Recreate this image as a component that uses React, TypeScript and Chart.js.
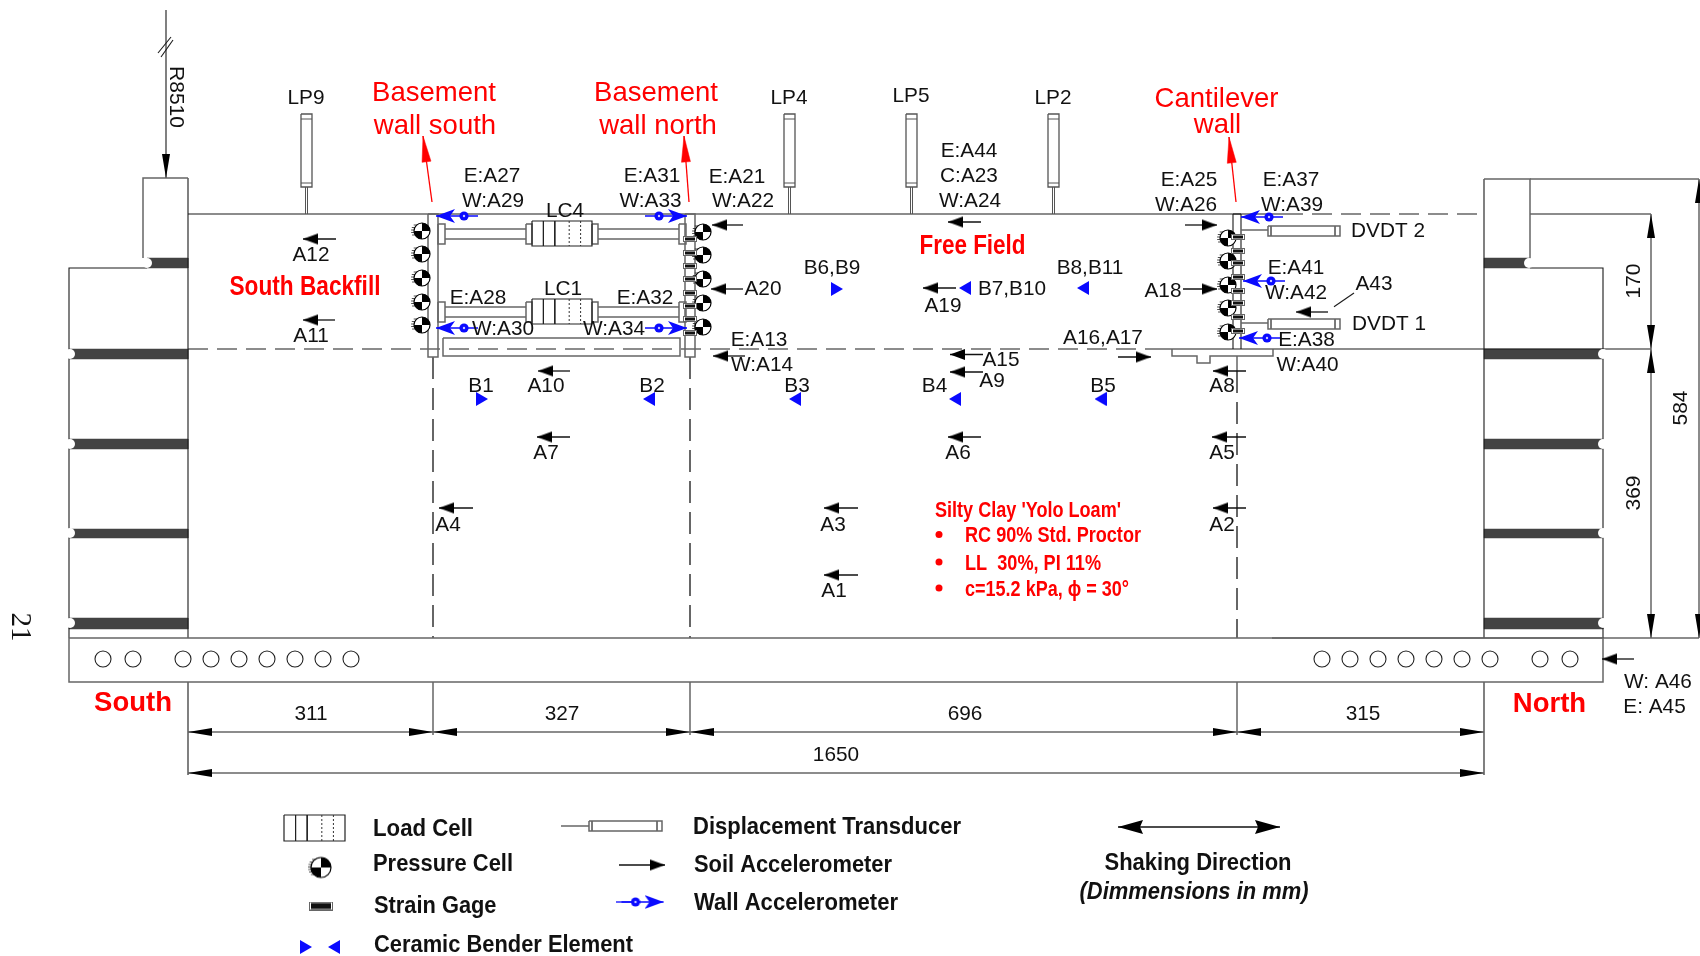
import { useEffect, useRef } from "react";
import { Chart, registerables } from "chart.js";

Chart.register(...registerables);

type P = [number, number];
type R = [number, number, number, number];
type T = [string, number, number, number?];

// ---------- Labels ----------
const sensorLabels: T[] = [
  ["LP9", 306, 97], ["LP4", 789, 97], ["LP5", 911, 95], ["LP2", 1053, 97],
  ["E:A44", 969, 150], ["C:A23", 969, 175], ["W:A24", 970, 199.5],
  ["E:A27", 492, 175], ["W:A29", 493, 199.5], ["LC4", 565, 210],
  ["E:A31", 652, 175], ["W:A33", 650.5, 199.5], ["E:A21", 737, 175.5], ["W:A22", 743, 199.5],
  ["E:A25", 1189, 179], ["W:A26", 1186, 204], ["E:A37", 1291, 179], ["W:A39", 1292, 204],
  ["DVDT 2", 1388, 230], ["DVDT 1", 1389, 323],
  ["A12", 311, 254], ["A11", 311, 335], ["A20", 763, 288], ["A18", 1163, 289.5],
  ["B6,B9", 832, 267], ["B8,B11", 1090, 267], ["B7,B10", 1012, 288], ["A19", 943, 305],
  ["E:A41", 1296, 267], ["W:A42", 1296, 292], ["A43", 1374, 283],
  ["LC1", 563, 288], ["E:A28", 478, 297], ["E:A32", 645, 297],
  ["W:A30", 503, 327.5], ["W:A34", 614, 327.5], ["A16,A17", 1103, 337],
  ["E:A38", 1306.5, 339], ["E:A13", 759, 339], ["W:A14", 762, 364], ["A15", 1001, 359],
  ["W:A40", 1307.5, 364], ["A9", 992, 379.5],
  ["B1", 481, 385], ["A10", 546, 385], ["B2", 652, 385], ["B3", 797, 385],
  ["B4", 934.5, 385], ["B5", 1103, 385], ["A8", 1222, 385],
  ["A7", 546, 452], ["A6", 958, 452], ["A5", 1222, 452],
  ["A4", 448, 524], ["A3", 833, 524], ["A2", 1222, 524], ["A1", 834, 590],
  ["311", 311, 712.5], ["327", 562, 712.5], ["696", 965, 712.5], ["315", 1363, 712.5], ["1650", 836, 753.5],
  ["W: A46", 1658, 681], ["E: A45", 1654.5, 706],
];
const wallTitles: T[] = [
  ["Basement", 434, 92], ["wall south", 435, 125], ["Basement", 656, 92], ["wall north", 658, 125],
  ["Cantilever", 1216.5, 97.5], ["wall", 1217.5, 124],
];
const regionTitles: T[] = [["South Backfill", 305, 286, 151], ["Free Field", 972.5, 245, 106]];
const endTitles: T[] = [["South", 133, 701.5], ["North", 1549.5, 702.5]];
const soilNotes: T[] = [
  ["Silty Clay 'Yolo Loam'", 935, 509, 186], ["RC 90% Std. Proctor", 965, 534.5, 176],
  ["LL  30%, PI 11%", 965, 562, 136], ["c=15.2 kPa, \u03D5 = 30\u00B0", 965, 588, 164],
];
const legendLabels: T[] = [
  ["Load Cell", 373, 828, 100], ["Pressure Cell", 373, 863, 140], ["Strain Gage", 374, 905.5, 122.5],
  ["Ceramic Bender Element", 374, 944, 259], ["Displacement Transducer", 693, 826, 268],
  ["Soil Accelerometer", 694, 864, 198], ["Wall Accelerometer", 694, 902, 204],
];
const shakingTitle: T[] = [["Shaking Direction", 1198, 862, 187]];
const shakingNote: T[] = [["(Dimmensions in mm)", 1194, 891, 229]];
const upDimensions: T[] = [["170", 1634, 281], ["369", 1634, 493], ["584", 1681, 408]];
const radiusLabel: T[] = [["R8510", 176, 97]];
const pageNumber: T[] = [["21", 19.5, 627]];

// ---------- Sensors ----------
const soilLeft: [number, number, number][] = [
  [303, 336, 239], [303, 335, 320], [712, 743, 225], [711, 743, 289], [713, 745, 356], [538, 570, 371],
  [537, 570, 437], [948, 981, 437], [1212, 1246, 437], [1213, 1246, 371], [439, 473, 508], [824, 858, 508],
  [1213, 1246, 508], [824, 858, 575], [923, 956, 288], [950, 983, 354.5], [950, 983, 372], [948, 981, 222],
  [1296, 1328, 312], [1602, 1634, 659],
];
const soilRight: [number, number, number][] = [
  [1217, 1185, 225], [1217, 1183, 289], [1151, 1118, 357], [665, 619, 865],
];
const wallLeft: P[] = [[436, 216], [436, 328], [1241, 217], [1243, 281], [1239, 338]];
const wallRight: P[] = [[687, 216], [687, 328], [663.5, 902]];
const legendWallTail: P[][] = [[[616, 902], [640, 902]]];
const benderRight: P[] = [[482, 399], [837, 289], [306, 947]];
const benderLeft: P[] = [[649, 399], [795, 399], [955, 399], [1100.5, 399], [965, 288], [1083, 288], [334, 947]];
const pressureCells: P[] = [
  [421, 231], [421, 254], [421, 278], [421, 302], [421, 325],
  [702, 232], [702, 255], [702, 279], [702, 303], [702, 327],
  [1227, 238], [1227, 261], [1227, 285], [1227, 308], [1227, 332],
];
const legendPressure: P[] = [[320, 867.5]];
const strainGages: P[] = [
  [690, 239], [690, 253], [690, 266], [690, 279], [690, 293], [690, 306], [690, 319], [690, 333],
  [1238, 237], [1238, 251], [1238, 263], [1238, 277], [1238, 291], [1238, 303], [1238, 317], [1238, 331],
];
const legendStrain: P[] = [[321, 906]];
const holes: P[] = [
  [103, 659], [133, 659], [183, 659], [211, 659], [239, 659], [267, 659], [295, 659], [323, 659], [351, 659],
  [1322, 659], [1350, 659], [1378, 659], [1406, 659], [1434, 659], [1462, 659], [1490, 659], [1540, 659], [1570, 659],
];
const notches: P[] = [
  [147, 263], [70, 354], [70, 444], [70, 533], [70, 623],
  [1529, 263], [1603, 354], [1603, 444], [1603, 533], [1603, 623],
];
const noteBullets: P[] = [[939, 534.5], [939, 562], [939, 588]];

// ---------- Structure ----------
const darkBands: R[] = [
  [147, 258, 188, 268], [69, 349, 188, 359], [69, 439, 188, 449], [69, 529, 188, 538], [69, 618, 188, 629],
  [1484, 258, 1530, 268], [1484, 349, 1603, 359], [1484, 439, 1603, 449], [1484, 529, 1603, 538], [1484, 618, 1603, 629],
];
const blackLines: P[][] = [
  [[166, 10], [166, 178]], [[158, 53], [171, 37]], [[161, 57], [173, 40]],
  [[188, 178], [188, 638]], [[1484, 179], [1484, 638]],
  [[147, 268], [69, 268], [69, 638]], [[1530, 268], [1603, 268], [1603, 638]],
  [[188, 214], [1283, 214]], [[1530, 214], [1651, 214]], [[1156, 349], [1651, 349]], [[1272, 638], [1699, 638]],
  [[1233, 214], [1233, 349]], [[1241, 214], [1241, 349]], [[1233, 214], [1241, 214]],
  [[188, 682], [188, 775]], [[1484, 682], [1484, 775]],
  [[1334, 306.7], [1354, 293]],
];
const dashedBlack: P[][] = [[[188, 349], [1156, 349]], [[1283, 214], [1484, 214]]];
const grayLines: P[][] = [
  [[143, 258], [143, 178], [188, 178]], [[1530, 258], [1530, 179], [1484, 179]], [[1530, 179], [1699, 179]],
  [[69, 638], [1603, 638], [1603, 682], [69, 682], [69, 638]],
  [[433, 682], [433, 735]], [[690, 682], [690, 735]], [[1237, 682], [1237, 735]],
  [[188, 732], [1484, 732]], [[188, 773], [1484, 773]],
  [[1651, 214], [1651, 638]], [[1699, 179], [1699, 638]],
  [[1172, 349], [1172, 356], [1197, 356], [1197, 363], [1210, 363], [1210, 356], [1273, 356], [1273, 349]],
  [[1237, 356], [1237, 371]],
  [[445, 229], [526, 229]], [[445, 239], [526, 239]], [[598, 229], [679, 229]], [[598, 239], [679, 239]],
  [[445, 307], [526, 307]], [[445, 317], [526, 317]], [[598, 307], [679, 307]], [[598, 317], [679, 317]],
  [[1241, 230], [1268, 230]], [[1241, 323], [1268, 323]], [[561, 826], [589, 826]],
];
const grayRects: R[] = [
  [428, 214, 438, 357], [685, 214, 695, 357], [443, 338, 680, 356],
  [438, 224, 445, 244], [526, 224, 532, 244], [592, 224, 598, 244], [679, 224, 686, 244],
  [438, 302, 445, 322], [526, 302, 532, 322], [592, 302, 598, 322], [679, 302, 686, 322],
  [1268, 226, 1340, 236], [1268, 319, 1340, 329], [589, 821, 662, 831],
];
const gauges: number[] = [301, 784, 906, 1048];
const loadCells: R[] = [[532, 221, 592, 246], [532, 299, 592, 324], [284, 815, 345, 841]];
const dashedWalls: P[][] = [[[433, 357], [433, 638]], [[690, 357], [690, 638]], [[1237, 371], [1237, 638]]];
const redArrows: [P, P][] = [[[432, 202], [423, 136]], [[689, 202], [684, 136]], [[1236, 202], [1229, 137]]];
// tip x, tip y, direction
const dimensionHeads: [number, number, string][] = [
  [188, 732, "left"], [433, 732, "right"], [433, 732, "left"], [690, 732, "right"], [690, 732, "left"],
  [1237, 732, "right"], [1237, 732, "left"], [1484, 732, "right"], [188, 773, "left"], [1484, 773, "right"],
  [1651, 214, "up"], [1651, 349, "down"], [1651, 349, "up"], [1651, 638, "down"],
  [1699, 179, "up"], [1699, 638, "down"], [166, 178, "down"],
];
const shakingArrow: P[] = [[1118, 827], [1280, 827]];

const rotations: Record<string, number> = { right: 0, down: 90, left: 180, up: -90 };
const unit: Record<string, P> = { right: [1, 0], down: [0, 1], left: [-1, 0], up: [0, -1] };

function image(w: number, h: number, draw: (c: CanvasRenderingContext2D) => void) {
  const cv = document.createElement("canvas");
  cv.width = w;
  cv.height = h;
  draw(cv.getContext("2d") as CanvasRenderingContext2D);
  return cv;
}
const headImage = (len: number, wid: number, color: string, notch = 0) =>
  image(len, wid + 2, (c) => {
    c.fillStyle = color;
    c.beginPath();
    c.moveTo(len, wid / 2 + 1);
    c.lineTo(0, 1);
    c.lineTo(notch, wid / 2 + 1);
    c.lineTo(0, wid + 1);
    c.closePath();
    c.fill();
  });
const pressureImage = (r: number) =>
  image(2 * r + 8, 2 * r + 4, (c) => {
    const cx = r + 5;
    const cy = r + 2;
    c.strokeStyle = "#222";
    c.lineWidth = 0.8;
    for (let dy = -r + 2; dy <= r - 2; dy += 2.5) {
      c.beginPath();
      c.moveTo(cx - Math.sqrt(r * r - dy * dy) - 3, cy + dy);
      c.lineTo(cx, cy + dy);
      c.stroke();
    }
    c.fillStyle = "#fff";
    c.beginPath();
    c.arc(cx, cy, r, 0, 2 * Math.PI);
    c.fill();
    c.fillStyle = "#000";
    [-Math.PI / 2, Math.PI / 2].forEach((a) => {
      c.beginPath();
      c.moveTo(cx, cy);
      c.arc(cx, cy, r, a, a + Math.PI / 2);
      c.closePath();
      c.fill();
    });
    c.lineWidth = 1.2;
    c.strokeStyle = "#000";
    c.beginPath();
    c.arc(cx, cy, r, 0, 2 * Math.PI);
    c.stroke();
  });
const strainImage = (w: number, h: number) =>
  image(w, h, (c) => {
    c.fillStyle = "#fff";
    c.fillRect(0, 0, w, h);
    c.strokeStyle = "#666";
    c.lineWidth = 1;
    c.strokeRect(0.5, 0.5, w - 1, h - 1);
    c.fillStyle = "#111";
    c.fillRect(2, 1.5, w - 4, h - 3);
  });
const dotImage = () =>
  image(10, 10, (c) => {
    c.fillStyle = "#0a0aff";
    c.beginPath();
    c.arc(5, 5, 4.6, 0, 2 * Math.PI);
    c.fill();
    c.fillStyle = "#c8c8ff";
    c.beginPath();
    c.arc(5, 5, 1.2, 0, 2 * Math.PI);
    c.fill();
  });

const xy = (pts: P[]) => pts.map(([x, y]) => ({ x, y }));
const lines = (list: P[][], color: string, width: number, dash: number[] = []) =>
  list.map((pts) => ({
    data: xy(pts),
    borderColor: color,
    borderWidth: width,
    borderDash: dash,
    pointRadius: 0,
    showLine: true,
    fill: false,
    tension: 0,
  }));
const box = ([a, b, c, d]: R): P[] => [[a, b], [c, b], [c, d], [a, d], [a, b]];
const filled = (pts: P[], color: string) => ({
  data: xy(pts),
  borderColor: color,
  backgroundColor: color,
  borderWidth: 0.5,
  pointRadius: 0,
  showLine: true,
  fill: "shape",
  tension: 0,
});
const marks = (pts: P[], style: any, rotation = 0) => ({
  data: xy(pts),
  showLine: false,
  pointStyle: style,
  pointRadius: 6,
  pointRotation: rotation,
  borderWidth: 0,
});
const circles = (pts: P[], r: number, fill: string, stroke: string, w: number) => ({
  data: xy(pts),
  showLine: false,
  pointStyle: "circle",
  pointRadius: r,
  pointBackgroundColor: fill,
  pointBorderColor: stroke,
  pointBorderWidth: w,
});

function buildDatasets() {
  const blue = "#0a0aff";
  const soilHead = headImage(15, 11, "#000");
  const wallHead = headImage(19, 14, blue, 5);
  const benderR = headImage(12, 14, blue);
  const dimH = headImage(24, 8, "#000");
  const bigH = headImage(25, 14, "#000", 3);
  const dot = dotImage();
  const gray = "#666";
  const painter: any[] = [];

  painter.push(...darkBands.map((r) => filled(box(r), "#434343")));
  painter.push(...lines(blackLines, "#1a1a1a", 1.1));
  painter.push(...lines(dashedBlack, "#1a1a1a", 1.1, [20, 9]));
  painter.push(...lines(grayLines, gray, 1.5));
  painter.push(circles(notches, 5, "#fff", "#fff", 0));
  painter.push(...lines(grayRects.map(box), gray, 1.5));
  painter.push(...lines(dashedWalls, gray, 2, [22, 9]));
  gauges.forEach((x) => {
    painter.push(...lines([box([x, 114, x + 11, 187])], "#555", 1.3));
    painter.push(
      ...lines(
        [[[x, 119], [x + 11, 119]], [[x, 183], [x + 11, 183]], [[x + 4.5, 187], [x + 4.5, 214]], [[x + 6.5, 187], [x + 6.5, 214]]],
        "#555",
        1,
      ),
    );
  });
  loadCells.forEach(([a, b, c, d]) => {
    const w = c - a;
    painter.push(...lines([box([a, b, c, d])], "#222", 1.2));
    painter.push(...lines([[[a + 0.19 * w, b], [a + 0.19 * w, d]], [[a + 0.38 * w, b], [a + 0.38 * w, d]]], "#222", 1));
    painter.push(...lines([[[a + 0.62 * w, b], [a + 0.62 * w, d]], [[a + 0.81 * w, b], [a + 0.81 * w, d]]], "#333", 1, [2, 2]));
  });
  // transducer inner lines
  painter.push(...lines([[[1271, 226], [1271, 236]], [[1335, 226], [1335, 236]], [[1271, 319], [1271, 329]], [[1335, 319], [1335, 329]], [[592, 821], [592, 831]], [[657, 821], [657, 831]]], gray, 1));

  // soil accelerometers
  painter.push(...lines(soilLeft.map(([t, e, y]) => [[t, y], [e, y]] as P[]), "#111", 1.3));
  painter.push(...lines(soilRight.map(([t, e, y]) => [[e, y], [t, y]] as P[]), "#111", 1.3));
  painter.push(marks(soilLeft.map(([t, , y]) => [t + 7.5, y] as P), soilHead, 180));
  painter.push(marks(soilRight.map(([t, , y]) => [t - 7.5, y] as P), soilHead, 0));

  // pressure cells & strain gages
  const pc = pressureImage(8);
  painter.push(marks(pressureCells, pc));
  painter.push(marks(legendPressure, pressureImage(10)));
  painter.push(marks(strainGages, strainImage(14, 6)));
  painter.push(marks(legendStrain, strainImage(24, 9)));

  // wall accelerometers
  painter.push(...lines(wallLeft.map(([x, y]) => [[x, y], [x + 42, y]] as P[]), blue, 1.3));
  painter.push(...lines(wallRight.map(([x, y]) => [[x, y], [x - 42, y]] as P[]), blue, 1.3));
  painter.push(...lines(legendWallTail, blue, 1.3));
  painter.push(marks(wallLeft.map(([x, y]) => [x + 9.5, y] as P), wallHead, 180));
  painter.push(marks(wallRight.map(([x, y]) => [x - 9.5, y] as P), wallHead, 0));
  painter.push(marks(wallLeft.map(([x, y]) => [x + 28, y] as P), dot));
  painter.push(marks(wallRight.map(([x, y]) => [x - 28, y] as P), dot));

  // bender elements
  painter.push(marks(benderRight, benderR, 0));
  painter.push(marks(benderLeft, benderR, 180));

  // dimension heads
  Object.keys(rotations).forEach((dir) => {
    const [ux, uy] = unit[dir];
    const pts = dimensionHeads.filter((d) => d[2] === dir).map((d) => [d[0] - ux * 12, d[1] - uy * 12] as P);
    if (pts.length) painter.push(marks(pts, dimH, rotations[dir]));
  });

  // shaking arrow
  painter.push(...lines([shakingArrow], "#111", 1.5));
  painter.push(marks([[shakingArrow[0][0] + 12.5, shakingArrow[0][1]]], bigH, 180));
  painter.push(marks([[shakingArrow[1][0] - 12.5, shakingArrow[1][1]]], bigH, 0));

  // red arrows
  redArrows.forEach(([tail, tip]) => {
    painter.push(...lines([[tail, tip]], "#ff0000", 1.3));
    const dx = tip[0] - tail[0];
    const dy = tip[1] - tail[1];
    const n = Math.hypot(dx, dy);
    const bx = tip[0] - (dx / n) * 26;
    const by = tip[1] - (dy / n) * 26;
    const px = (-dy / n) * 4.5;
    const py = (dx / n) * 4.5;
    painter.push(filled([tip, [bx + px, by + py], [bx - px, by - py], tip], "#ff0000"));
  });

  painter.push(circles(holes, 8, "#fff", "#222", 1.1));
  painter.push(circles(noteBullets, 3.5, "#ff0000", "#ff0000", 0));
  return painter.reverse();
}

const SANS = '"Liberation Sans", Arial, sans-serif';
const textGroups: { items: T[]; font: string; color: string; align?: CanvasTextAlign; rotate?: number }[] = [
  { items: sensorLabels, font: `20.8px ${SANS}`, color: "#111" },
  { items: wallTitles, font: `27.5px ${SANS}`, color: "#ff0000" },
  { items: regionTitles, font: `bold 27px ${SANS}`, color: "#ff0000" },
  { items: endTitles, font: `bold 27.5px ${SANS}`, color: "#ff0000" },
  { items: soilNotes, font: `bold 22px ${SANS}`, color: "#ff0000", align: "left" },
  { items: legendLabels, font: `bold 23px ${SANS}`, color: "#111", align: "left" },
  { items: shakingTitle, font: `bold 23px ${SANS}`, color: "#111" },
  { items: shakingNote, font: `italic bold 23px ${SANS}`, color: "#111" },
  { items: upDimensions, font: `21px ${SANS}`, color: "#111", rotate: -Math.PI / 2 },
  { items: radiusLabel, font: `21px ${SANS}`, color: "#111", rotate: Math.PI / 2 },
  { items: pageNumber, font: `29px "Liberation Serif", serif`, color: "#111", rotate: Math.PI / 2 },
];

const textPlugin = {
  id: "drawingText",
  afterDatasetsDraw(chart: any) {
    const { ctx, scales } = chart;
    ctx.save();
    ctx.textBaseline = "middle";
    textGroups.forEach((g) => {
      ctx.font = g.font;
      ctx.fillStyle = g.color;
      ctx.textAlign = g.align || "center";
      g.items.forEach(([s, x, y, w]) => {
        ctx.save();
        ctx.translate(scales.x.getPixelForValue(x), scales.y.getPixelForValue(y));
        if (g.rotate) ctx.rotate(g.rotate);
        const dy = g.rotate ? 0 : 1.5;
        if (w) ctx.fillText(s, 0, dy, w);
        else ctx.fillText(s, 0, dy);
        ctx.restore();
      });
    });
    ctx.restore();
  },
};

export default function App() {
  const ref = useRef<HTMLCanvasElement>(null);
  useEffect(() => {
    document.body.style.margin = "0";
    const chart = new Chart(ref.current as HTMLCanvasElement, {
      type: "line",
      data: { datasets: buildDatasets() },
      options: {
        responsive: false,
        animation: false,
        devicePixelRatio: 1,
        events: [],
        layout: { padding: 0, autoPadding: false },
        plugins: { legend: { display: false }, tooltip: { enabled: false }, title: { display: false } },
        scales: {
          x: { type: "linear", min: 0, max: 1700, display: false },
          y: { type: "linear", min: 0, max: 956, reverse: true, display: false },
        },
      } as any,
      plugins: [textPlugin],
    } as any);
    return () => chart.destroy();
  }, []);
  return <canvas ref={ref} width={1700} height={956} style={{ display: "block", background: "#fff" }} />;
}
